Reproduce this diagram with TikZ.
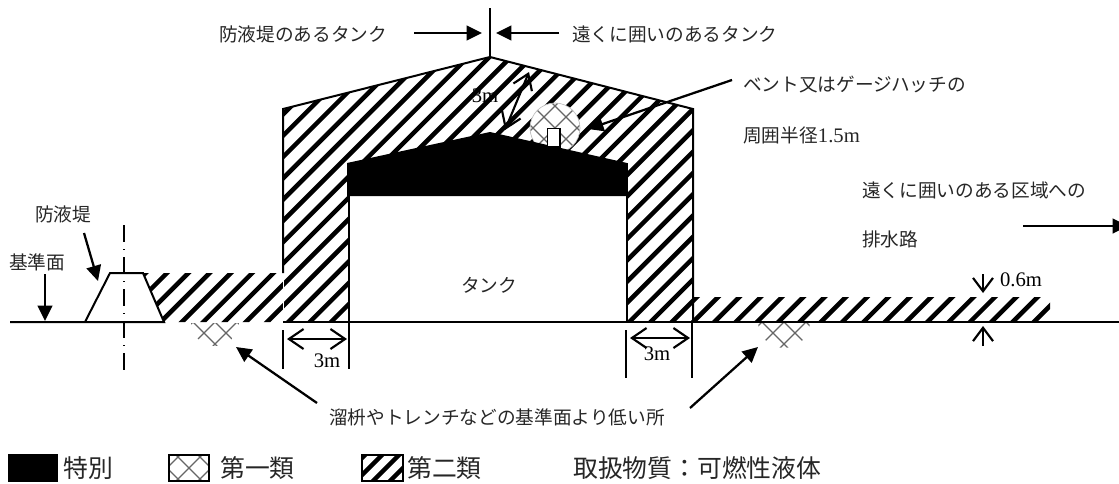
\documentclass[tikz,border=0pt]{standalone}
\usepackage{fontspec}
\setmainfont{Liberation Serif}
\newfontfamily\cjk{Noto Sans CJK JP}
\usetikzlibrary{arrows.meta}
\tikzset{
  lbl/.style={inner sep=0pt,anchor=west,text=black!85,font=\cjk\fontsize{14}{16}\selectfont},
  lblbig/.style={inner sep=0pt,anchor=west,text=black!85,font=\cjk\fontsize{18.6}{20}\selectfont},
  num/.style={inner sep=0pt,anchor=center,font=\fontsize{15.5}{17}\selectfont},
  fat/.style={line width=1.7pt,-{Triangle[length=11.5pt,width=11pt]}},
  open/.style={line width=1.6pt,{Straight Barb[length=11pt,width=15pt]}-{Straight Barb[length=11pt,width=15pt]}},
  opentip/.style={line width=1.6pt,-{Straight Barb[length=10pt,width=15pt]}},
  wall/.style={line width=1.5pt,black},
  thin/.style={line width=1.1pt,black},
  stripe/.style={line width=3.4pt,black},
  xline/.style={line width=.85pt,black!60}
}
\newcommand{\stripes}{\foreach \c in {0,1,...,90}{\draw[stripe] ({\c*21.3+14},0)--({\c*21.3+14-600},600);}}
\newcommand{\crosses}[2]{\foreach \k in {-6,...,6}{
  \draw[xline] ({#1+\k*22+60},{#2-60})--({#1+\k*22-60},{#2+60});
  \draw[xline] ({#1+\k*22-60},{#2-60})--({#1+\k*22+60},{#2+60});}}
\begin{document}
\begin{tikzpicture}[x=.75pt,y=-.75pt]
\useasboundingbox (0,0) rectangle (1119,483);
% hatched zones
\begin{scope}
\clip (283,109)--(490,57)--(693,109)--(693,322)--(283,322)--cycle;
\stripes
\end{scope}
\begin{scope}
\clip (143,273)--(283,273)--(283,322)--(164,322)--cycle;
\stripes
\end{scope}
\begin{scope}
\clip (693,297)--(1050,297)--(1050,322)--(693,322)--cycle;
\stripes
\end{scope}
\draw[white,line width=.6pt] (283.5,273)--(283.5,322);
% class 1 zones
\fill[white] (555,128) circle (25);
\begin{scope}
\clip (555,128) circle (25);
\crosses{555}{128}
\end{scope}
\draw[line width=.5pt,black!25] (555,128) circle (25);
\begin{scope}
\clip (190,323) rectangle (242,350);
\clip (215,322) circle (24);
\crosses{215}{322}
\end{scope}
\begin{scope}
\clip (755,323) rectangle (812,350);
\clip (784,322) circle (26);
\crosses{784}{322}
\end{scope}
% tank
\fill[white] (349,163) rectangle (627,322);
\fill[black] (347,163)--(490,132)--(627,163)--(627,196)--(347,196)--cycle;
\draw[wall] (349,163)--(349,322) (627,163)--(627,322);
\node[draw=black,fill=white,line width=1pt,minimum width=9.5pt,minimum height=14pt,inner sep=0pt] (vent) at (553.5,137.5) {};
% outlines
\draw[wall] (283,273)--(283,109)--(490,57)--(693,109)--(693,322);
\draw[wall] (490,57)--(490,8);
\draw[wall] (10,322)--(85,322)--(110,273)--(143,273)--(164,322)--(85,322);
\draw[wall] (283,322)--(1119,322);
\draw[line width=.9pt,dash pattern=on 13pt off 5pt on 1pt off 5pt] (124,225)--(124,370);
% coordinates
\coordinate (a1) at (414,33); \coordinate (a2) at (482,33);
\coordinate (b1) at (559,33); \coordinate (b2) at (496,33);
\coordinate (c1) at (732,80); \coordinate (c2) at (588,129);
\coordinate (d1) at (1023,226); \coordinate (d2) at (1128,226);
\coordinate (e1) at (84,233); \coordinate (e2) at (98,281);
\coordinate (f1) at (45,274); \coordinate (f2) at (45,321);
\coordinate (g1) at (317,403); \coordinate (g2) at (236,347);
\coordinate (h1) at (690,408); \coordinate (h2) at (758,347);
\coordinate (i1) at (529,72); \coordinate (i2) at (505,130);
\coordinate (j1) at (287,339); \coordinate (j2) at (347,339);
\coordinate (k1) at (630,338); \coordinate (k2) at (690,338);
\coordinate (m1) at (983,274); \coordinate (m2) at (983,293);
\coordinate (n1) at (983,346); \coordinate (n2) at (983,326);
\draw[fat] (a1)--(a2);
\draw[fat] (b1)--(b2);
\draw[fat] (c1)--(c2);
\draw[fat] (d1)--(d2);
\draw[fat] (e1)--(e2);
\draw[fat] (f1)--(f2);
\draw[fat] (g1)--(g2);
\draw[fat] (h1)--(h2);
\draw[open] (i1)--(i2);
\draw[open] (j1)--(j2);
\draw[open] (k1)--(k2);
\draw[opentip] (m1)--(m2);
\draw[opentip] (n1)--(n2);
\draw[thin] (283,330)--(283,369) (349,322)--(349,369);
\draw[thin] (626,330)--(626,378) (692,322)--(692,378);
% labels
\node[lbl] (t1) at (219,34) {防液堤のあるタンク};
\node[lbl] (t2) at (572,34) {遠くに囲いのあるタンク};
\node[lbl] (t3) at (743,85) {ベント又はゲージハッチの};
\node[lbl] (t4) at (743,135) {周囲半径{\fontfamily{\rmdefault}\fontsize{15.5}{17}\selectfont 1.5m}};
\node[lbl] (t5) at (862,190) {遠くに囲いのある区域への};
\node[lbl] (t6) at (862,239) {排水路};
\node[lbl] (t7) at (35,214) {防液堤};
\node[lbl] (t8) at (9,262) {基準面};
\node[lbl] (t9) at (461,285) {タンク};
\node[lbl] (t10) at (329,417) {溜枡やトレンチなどの基準面より低い所};
\node[num] (m3a) at (485,96) {3m};
\node[num] (m3b) at (327,361) {3m};
\node[num] (m3c) at (657,354) {3m};
\node[num] (m06) at (1021,280) {0.6m};
% legend
\fill[black] (8,454) rectangle (58,482);
\node[lblbig] (l1) at (63,468) {特別};
\begin{scope}
\clip (169,455) rectangle (209,481);
\crosses{189}{468}
\end{scope}
\draw[line width=1.3pt] (169,455) rectangle (209,481);
\node[lblbig] (l2) at (220,468) {第一類};
\begin{scope}
\clip (362,455) rectangle (403,481);
\foreach \c in {0,...,5}{\draw[stripe] ({370+\c*17},450)--({370+\c*17-40},490);}
\end{scope}
\draw[line width=1.3pt] (362,455) rectangle (403,481);
\node[lblbig] (l3) at (407,468) {第二類};
\node[lblbig] (l4) at (573,468) {取扱物質：可燃性液体};
\end{tikzpicture}
\end{document}
